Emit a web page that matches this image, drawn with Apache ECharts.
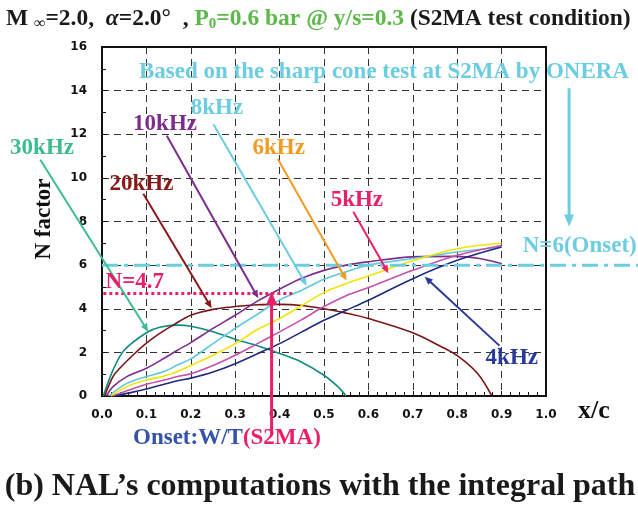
<!DOCTYPE html>
<html><head><meta charset="utf-8">
<script src="https://cdn.jsdelivr.net/npm/echarts@6/dist/echarts.min.js"></script>
<style>html,body{margin:0;padding:0;background:#fff}#c{width:638px;height:509px}</style>
</head><body><div id="c"></div>
<script>
// ---- axes ----
const xMin = 0, xMax = 1, xStep = 0.1;
const yMin = 0, yMax = 16, yStep = 2;

// ---- series values [x/c, N] ----
const names = ['30kHz', '20kHz', '10kHz', '8kHz', '6kHz', '5kHz', '4kHz'];
const curveColors = ['#0f8c82', '#7a1414', '#7b2d8e', '#5fc9dc', '#f2e400', '#c650aa', '#1f2a80'];
const n30k = [[0.003,0],[0.025,1.2],[0.05,2.1],[0.1,2.9],[0.13,3.15],[0.17,3.25],[0.2,3.2],[0.25,2.95],[0.3,2.6],[0.35,2.3],[0.4,1.95],[0.45,1.55],[0.5,0.95],[0.53,0.45],[0.55,0]];
const n20k = [[0.006,0],[0.025,0.9],[0.04,1.27],[0.07,1.88],[0.1,2.42],[0.13,2.87],[0.16,3.25],[0.2,3.7],[0.25,3.97],[0.3,4.1],[0.35,4.18],[0.4,4.2],[0.45,4.15],[0.5,4.0],[0.55,3.8],[0.6,3.55],[0.7,2.9],[0.76,2.3],[0.8,1.85],[0.845,1.05],[0.878,0]];
const n10k = [[0.01,0],[0.025,0.43],[0.056,0.89],[0.1,1.27],[0.14,1.73],[0.17,2.1],[0.2,2.45],[0.25,3.1],[0.3,3.7],[0.35,4.35],[0.4,4.9],[0.45,5.4],[0.5,5.76],[0.55,6.0],[0.6,6.15],[0.7,6.38],[0.8,6.4],[0.85,6.3],[0.9,6.07]];
const n8k  = [[0.015,0],[0.056,0.58],[0.1,0.89],[0.14,1.12],[0.17,1.42],[0.2,1.7],[0.25,2.4],[0.3,3.1],[0.35,3.75],[0.4,4.4],[0.45,4.85],[0.5,5.35],[0.55,5.7],[0.6,6.0],[0.7,6.3],[0.8,6.6],[0.9,6.83]];
const n6k  = [[0.02,0],[0.056,0.43],[0.1,0.73],[0.14,0.92],[0.17,1.12],[0.2,1.4],[0.25,1.87],[0.3,2.4],[0.35,3.05],[0.4,3.55],[0.45,4.15],[0.5,4.75],[0.55,5.15],[0.6,5.5],[0.7,6.2],[0.8,6.75],[0.9,7.0]];
const n5k  = [[0.025,0],[0.056,0.24],[0.1,0.54],[0.14,0.73],[0.17,0.89],[0.2,1.02],[0.25,1.4],[0.3,1.87],[0.35,2.4],[0.4,2.94],[0.45,3.5],[0.5,4.1],[0.55,4.6],[0.6,4.97],[0.7,5.76],[0.8,6.45],[0.9,6.9]];
const n4k  = [[0.03,0],[0.056,0.12],[0.1,0.32],[0.14,0.54],[0.17,0.7],[0.2,0.82],[0.25,1.1],[0.3,1.48],[0.35,1.94],[0.4,2.4],[0.45,2.94],[0.5,3.47],[0.55,3.93],[0.6,4.39],[0.7,5.38],[0.8,6.22],[0.9,6.83]];
const curves = [n30k, n20k, n10k, n8k, n6k, n5k, n4k];

// ---- annotation values (data units) ----
const onsetN = 6;          // N=6(Onset)
const wtN = 4.7;           // N=4.7
const wtX = 0.382;         // Onset W/T position
const labelColors = ['#3dbd8e', '#8a1818', '#7b2d8e', '#6ccde0', '#f39a22', '#e8206a', '#2a3a98'];
const labelAt   = [[-0.135,11.38],[0.089,9.72],[0.142,12.48],[0.259,13.19],[0.398,11.38],[0.574,8.99],[0.923,1.74]];
const leaderFrom = [[-0.139,10.83],[0.093,9.27],[0.146,11.93],[0.251,12.46],[0.396,10.86],[0.566,8.45],[0.895,2.31]];
const leaderTo   = [[0.104,2.95],[0.247,4.02],[0.352,4.48],[0.461,5.06],[0.551,5.29],[0.645,5.63],[0.727,5.47]];

const chart = echarts.init(document.getElementById('c'));
const serif = "'Liberation Serif','Times New Roman',serif";
const dash = [7, 5];

chart.setOption({
  animation: false,
  grid: {left: 102, top: 47, width: 444, height: 349, show: true, borderColor: '#111', borderWidth: 2},
  xAxis: {
    type: 'value', min: xMin, max: xMax, interval: xStep,
    axisLine: {show: true, onZero: false, lineStyle: {color: '#111', width: 2}},
    axisTick: {show: true, inside: true, length: 5, lineStyle: {color: '#111', width: 1}},
    minorTick: {show: true, splitNumber: 5, length: 4, lineStyle: {color: '#111', width: 1}},
    axisLabel: {color: '#111', fontFamily: 'DejaVu Sans', fontWeight: 'bold', fontSize: 12, margin: 13,
      formatter: v => v.toFixed(1)},
    splitLine: {show: true, showMinLine: false, showMaxLine: false, lineStyle: {color: '#333', type: dash, width: 1}}
  },
  yAxis: {
    type: 'value', min: yMin, max: yMax, interval: yStep,
    axisLine: {show: true, onZero: false, lineStyle: {color: '#111', width: 2}},
    axisTick: {show: true, inside: true, length: 5, lineStyle: {color: '#111', width: 1}},
    minorTick: {show: true, splitNumber: 2, length: 4, lineStyle: {color: '#111', width: 1}},
    axisLabel: {color: '#111', fontFamily: 'DejaVu Sans', fontWeight: 'bold', fontSize: 12, margin: 15},
    splitLine: {show: true, showMinLine: false, showMaxLine: false, lineStyle: {color: '#333', type: dash, width: 1}}
  },
  series: curves.map((d, i) => ({
    name: names[i], type: 'line', data: d, smooth: 0.35, showSymbol: false,
    lineStyle: {color: curveColors[i], width: 1.6}, itemStyle: {color: curveColors[i]}, z: 3 + i
  }))
});

const P = (p) => chart.convertToPixel({gridIndex: 0}, p);

function arrow(a, b, color, w, hl, hw) {
  const [x0, y0] = P(a), [x1, y1] = P(b);
  const dx = x1 - x0, dy = y1 - y0, L = Math.hypot(dx, dy), ux = dx / L, uy = dy / L;
  const bx = x1 - ux * hl, by = y1 - uy * hl, nx = -uy, ny = ux;
  return [
    {type: 'line', z: 100, shape: {x1: x0, y1: y0, x2: bx + ux, y2: by + uy}, style: {stroke: color, lineWidth: w}},
    {type: 'polygon', z: 100, shape: {points: [[x1, y1], [bx + nx * hw, by + ny * hw], [bx - nx * hw, by - ny * hw]]}, style: {fill: color}}
  ];
}
function txt(str, at, color, font, extra) {
  const [x, y] = P(at);
  return Object.assign({type: 'text', z: 101, x, y, style: {text: str, fill: color, font,
    textAlign: 'center', textVerticalAlign: 'middle', align: 'center', verticalAlign: 'middle'}}, extra || {});
}

const g = [];
const lblFont = 'bold 23px ' + serif;
names.forEach((n, i) => {
  g.push(txt(n, labelAt[i], labelColors[i], lblFont));
  g.push(...arrow(leaderFrom[i], leaderTo[i], labelColors[i], 2, 8, 3.5));
});

// N=6 onset dash-dot line (extends to right edge)
const [ox0, oy] = P([0, onsetN]);
g.push({type: 'line', z: 99, shape: {x1: ox0, y1: oy, x2: 638, y2: oy},
  style: {stroke: '#6ccde0', lineWidth: 3, lineDash: [16, 6, 4, 6]}});
g.push(txt('N=6(Onset)', [1.076, 6.86], '#6ccde0', lblFont));
g.push(txt('Based on the sharp cone test at S2MA by ONERA', [0.635, 14.86], '#6ccde0', lblFont));
g.push(...arrow([1.052, 14.11], [1.052, 7.77], '#6ccde0', 3, 12, 5));

// N=4.7 dotted line + W/T onset arrow
const [dx0, dy] = P([0.003, wtN]), [dx1] = P([0.435, wtN]);
g.push({type: 'line', z: 99, shape: {x1: dx0, y1: dy, x2: dx1, y2: dy},
  style: {stroke: '#e8206a', lineWidth: 3, lineDash: [3, 3]}});
g.push(txt('N=4.7', [0.074, 5.23], '#e8206a', 'bold 23px ' + serif));
g.push(...arrow([wtX, -1.7], [wtX, wtN + 0.08], '#e8206a', 3, 13, 5.5));
g.push({type: 'text', z: 101, x: 133, y: 438, style: {
  text: '{a|Onset:W/T}{b|(S2MA)}', textVerticalAlign: 'middle', verticalAlign: 'middle',
  rich: {a: {fill: '#3553a8', color: '#3553a8', font: lblFont}, b: {fill: '#e8206a', color: '#e8206a', font: lblFont}}}});

// axis names
g.push({type: 'text', z: 101, x: 44, y: 219, rotation: Math.PI / 2, style: {text: 'N factor', fill: '#111',
  font: lblFont, textAlign: 'center', textVerticalAlign: 'middle', align: 'center', verticalAlign: 'middle'}});
g.push({type: 'text', z: 101, x: 594, y: 411, style: {text: 'x/c', fill: '#111', font: 'bold 26px ' + serif,
  textAlign: 'center', textVerticalAlign: 'middle', align: 'center', verticalAlign: 'middle'}});

// title
const tf = 'bold 23.5px ' + serif;
g.push({type: 'text', z: 101, x: 6, y: 5, style: {
  text: '{b|M }{s|∞}{b|=2.0,  }{a|α}{b|=2.0°  , }{g|P}{gs|0}{g|=0.6 bar @ y/s=0.3}{b| (S2MA test condition)}',
  rich: {
    b: {font: tf, fill: '#1a1a1a', color: '#1a1a1a', lineHeight: 27},
    s: {font: 'bold 16px ' + serif, fill: '#1a1a1a', color: '#1a1a1a', lineHeight: 16, verticalAlign: 'bottom'},
    a: {font: 'italic bold 23.5px ' + serif, fill: '#1a1a1a', color: '#1a1a1a', lineHeight: 27},
    g: {font: tf, fill: '#5cb848', color: '#5cb848', lineHeight: 27},
    gs: {font: 'bold 15px ' + serif, fill: '#5cb848', color: '#5cb848', lineHeight: 15, verticalAlign: 'bottom'}
  }}});

// caption
g.push({type: 'text', z: 101, x: 320, y: 487, style: {text: '(b) NAL\u2019s computations with the integral path',
  fill: '#1a1a1a', font: 'bold 32px ' + serif, textAlign: 'center', textVerticalAlign: 'middle', align: 'center', verticalAlign: 'middle'}});

chart.setOption({graphic: g});
</script></body></html>
